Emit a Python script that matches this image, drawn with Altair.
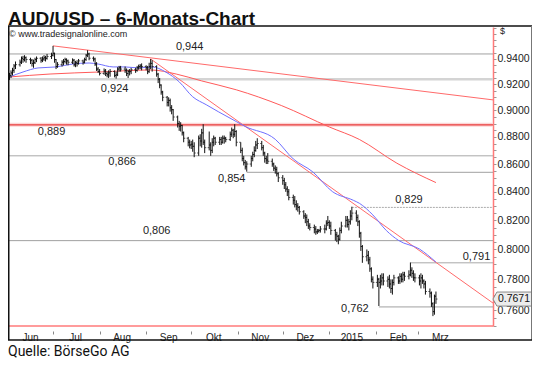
import altair as alt
import pandas as pd

TITLE = "AUD/USD – 6-Monats-Chart"
SOURCE = "Quelle: BörseGo AG"
WATERMARK = "© www.tradesignalonline.com"
LAST_PRICE = 0.7671
LAST_LABEL = "0.7671"

# daily bars (close, high, low), one list per month, weekdays in order
jun = [(0.9270, 0.9290, 0.9235), (0.9290, 0.9310, 0.9250), (0.9310, 0.9330, 0.9270),
       (0.9345, 0.9360, 0.9290), (0.9355, 0.9380, 0.9320), (0.9375, 0.9395, 0.9340),
       (0.9405, 0.9420, 0.9360), (0.9395, 0.9425, 0.9370), (0.9410, 0.9430, 0.9380),
       (0.9395, 0.9420, 0.9370), (0.9390, 0.9410, 0.9360), (0.9365, 0.9400, 0.9340),
       (0.9370, 0.9395, 0.9330), (0.9395, 0.9410, 0.9360), (0.9405, 0.9420, 0.9375),
       (0.9390, 0.9415, 0.9370), (0.9400, 0.9420, 0.9375), (0.9410, 0.9430, 0.9385),
       (0.9405, 0.9425, 0.9380), (0.9420, 0.9440, 0.9395), (0.9430, 0.9450, 0.9400)]
jul = [(0.9445, 0.9505, 0.9420), (0.9395, 0.9450, 0.9370), (0.9340, 0.9400, 0.9320),
       (0.9355, 0.9375, 0.9330), (0.9375, 0.9390, 0.9340), (0.9380, 0.9400, 0.9350),
       (0.9395, 0.9410, 0.9365), (0.9385, 0.9405, 0.9355), (0.9375, 0.9395, 0.9350),
       (0.9390, 0.9405, 0.9360), (0.9355, 0.9400, 0.9340), (0.9370, 0.9385, 0.9335),
       (0.9365, 0.9390, 0.9340), (0.9385, 0.9400, 0.9355), (0.9375, 0.9395, 0.9355),
       (0.9395, 0.9410, 0.9365), (0.9430, 0.9440, 0.9385), (0.9440, 0.9470, 0.9415),
       (0.9405, 0.9450, 0.9390), (0.9400, 0.9420, 0.9380), (0.9360, 0.9410, 0.9345),
       (0.9320, 0.9375, 0.9305), (0.9300, 0.9335, 0.9290)]
aug = [(0.9285, 0.9320, 0.9270), (0.9305, 0.9325, 0.9275), (0.9285, 0.9320, 0.9265),
       (0.9275, 0.9300, 0.9255), (0.9290, 0.9310, 0.9250), (0.9300, 0.9320, 0.9260),
       (0.9270, 0.9310, 0.9255), (0.9275, 0.9300, 0.9245), (0.9320, 0.9335, 0.9265),
       (0.9330, 0.9345, 0.9300), (0.9320, 0.9345, 0.9300), (0.9310, 0.9340, 0.9290),
       (0.9285, 0.9325, 0.9265), (0.9300, 0.9315, 0.9250), (0.9300, 0.9320, 0.9270),
       (0.9315, 0.9330, 0.9280), (0.9310, 0.9330, 0.9290), (0.9330, 0.9345, 0.9300),
       (0.9340, 0.9355, 0.9315), (0.9345, 0.9360, 0.9320), (0.9340, 0.9365, 0.9310)]
sep = [(0.9330, 0.9350, 0.9310), (0.9300, 0.9345, 0.9280), (0.9340, 0.9370, 0.9290),
       (0.9365, 0.9400, 0.9320), (0.9340, 0.9390, 0.9300), (0.9280, 0.9350, 0.9260),
       (0.9240, 0.9290, 0.9210), (0.9195, 0.9250, 0.9170), (0.9140, 0.9200, 0.9120),
       (0.9100, 0.9150, 0.9070), (0.9060, 0.9110, 0.9030), (0.9075, 0.9100, 0.9030),
       (0.9020, 0.9090, 0.8990), (0.9005, 0.9040, 0.8970), (0.8950, 0.9010, 0.8920),
       (0.8900, 0.8960, 0.8870), (0.8880, 0.8920, 0.8845), (0.8885, 0.8910, 0.8840),
       (0.8830, 0.8890, 0.8810), (0.8790, 0.8840, 0.8760), (0.8760, 0.8800, 0.8730),
       (0.8740, 0.8780, 0.8715)]
okt = [(0.8745, 0.8770, 0.8710), (0.8730, 0.8780, 0.8690), (0.8680, 0.8760, 0.8650),
       (0.8790, 0.8810, 0.8660), (0.8770, 0.8820, 0.8730), (0.8830, 0.8860, 0.8720),
       (0.8760, 0.8895, 0.8740), (0.8720, 0.8780, 0.8680), (0.8740, 0.8840, 0.8700),
       (0.8700, 0.8760, 0.8660), (0.8760, 0.8790, 0.8680), (0.8790, 0.8810, 0.8730),
       (0.8760, 0.8800, 0.8740), (0.8780, 0.8800, 0.8740), (0.8760, 0.8800, 0.8740),
       (0.8790, 0.8810, 0.8750), (0.8790, 0.8810, 0.8750), (0.8780, 0.8800, 0.8760),
       (0.8820, 0.8840, 0.8770), (0.8850, 0.8870, 0.8800), (0.8820, 0.8860, 0.8790),
       (0.8840, 0.8895, 0.8800), (0.8760, 0.8850, 0.8730)]
nov = [(0.8700, 0.8760, 0.8680), (0.8640, 0.8720, 0.8620), (0.8610, 0.8660, 0.8590),
       (0.8580, 0.8630, 0.8560), (0.8600, 0.8620, 0.8545), (0.8640, 0.8660, 0.8580),
       (0.8670, 0.8690, 0.8620), (0.8700, 0.8730, 0.8650), (0.8740, 0.8770, 0.8690),
       (0.8750, 0.8790, 0.8710), (0.8720, 0.8770, 0.8700), (0.8680, 0.8740, 0.8660),
       (0.8640, 0.8690, 0.8610), (0.8630, 0.8660, 0.8600), (0.8620, 0.8680, 0.8600),
       (0.8600, 0.8640, 0.8580), (0.8570, 0.8610, 0.8550), (0.8560, 0.8590, 0.8530),
       (0.8530, 0.8580, 0.8510), (0.8500, 0.8540, 0.8470)]
dez = [(0.8480, 0.8520, 0.8450), (0.8450, 0.8500, 0.8420), (0.8420, 0.8470, 0.8400),
       (0.8400, 0.8440, 0.8370), (0.8360, 0.8420, 0.8340), (0.8340, 0.8380, 0.8310),
       (0.8310, 0.8370, 0.8290), (0.8300, 0.8340, 0.8270), (0.8290, 0.8320, 0.8260),
       (0.8260, 0.8300, 0.8240), (0.8230, 0.8270, 0.8210), (0.8220, 0.8250, 0.8180),
       (0.8190, 0.8240, 0.8160), (0.8160, 0.8210, 0.8140), (0.8150, 0.8180, 0.8130),
       (0.8140, 0.8170, 0.8110), (0.8120, 0.8160, 0.8100), (0.8125, 0.8140, 0.8105),
       (0.8130, 0.8140, 0.8115), (0.8140, 0.8160, 0.8115), (0.8140, 0.8170, 0.8110),
       (0.8180, 0.8200, 0.8130), (0.8185, 0.8230, 0.8160)]
jan = [(0.8160, 0.8200, 0.8140), (0.8130, 0.8190, 0.8100), (0.8100, 0.8140, 0.8060),
       (0.8090, 0.8120, 0.8050), (0.8070, 0.8100, 0.8035), (0.8130, 0.8150, 0.8060),
       (0.8160, 0.8190, 0.8110), (0.8200, 0.8230, 0.8150), (0.8170, 0.8230, 0.8150),
       (0.8190, 0.8210, 0.8130), (0.8230, 0.8270, 0.8170), (0.8250, 0.8295, 0.8200),
       (0.8220, 0.8270, 0.8190), (0.8190, 0.8240, 0.8160), (0.8110, 0.8200, 0.8080),
       (0.8020, 0.8120, 0.7990), (0.7950, 0.8030, 0.7910), (0.7960, 0.8000, 0.7920),
       (0.7930, 0.7990, 0.7900), (0.7870, 0.7950, 0.7850), (0.7800, 0.7880, 0.7780),
       (0.7780, 0.7820, 0.7740)]
feb = [(0.7800, 0.7830, 0.7750), (0.7780, 0.7810, 0.7626), (0.7790, 0.7830, 0.7740),
       (0.7810, 0.7840, 0.7760), (0.7790, 0.7840, 0.7760), (0.7800, 0.7820, 0.7750),
       (0.7770, 0.7830, 0.7740), (0.7740, 0.7800, 0.7710), (0.7780, 0.7800, 0.7700),
       (0.7810, 0.7830, 0.7760), (0.7790, 0.7820, 0.7770), (0.7820, 0.7840, 0.7770),
       (0.7800, 0.7840, 0.7780), (0.7830, 0.7850, 0.7780), (0.7820, 0.7850, 0.7790),
       (0.7830, 0.7860, 0.7800), (0.7860, 0.7912, 0.7820), (0.7840, 0.7880, 0.7810),
       (0.7810, 0.7860, 0.7790), (0.7810, 0.7840, 0.7780)]
mrz = [(0.7790, 0.7830, 0.7760), (0.7810, 0.7840, 0.7740), (0.7790, 0.7830, 0.7770),
       (0.7770, 0.7800, 0.7740), (0.7720, 0.7790, 0.7700), (0.7710, 0.7740, 0.7680),
       (0.7640, 0.7720, 0.7620), (0.7590, 0.7650, 0.7561), (0.7690, 0.7700, 0.7570),
       (0.7671, 0.7720, 0.7640)]
month_ranges = [("2014-06-02", "2014-06-30"), ("2014-07-01", "2014-07-31"),
                ("2014-08-01", "2014-08-29"), ("2014-09-01", "2014-09-30"),
                ("2014-10-01", "2014-10-31"), ("2014-11-03", "2014-11-28"),
                ("2014-12-01", "2014-12-31"), ("2015-01-01", "2015-01-30"),
                ("2015-02-02", "2015-02-27"), ("2015-03-02", "2015-03-13")]
month_bars = [jun, jul, aug, sep, okt, nov, dez, jan, feb, mrz]
first_open = 0.9255

# moving averages
blue_dates = ["2014-06-02", "2014-06-11", "2014-06-21", "2014-07-03", "2014-07-14",
              "2014-07-25", "2014-07-31", "2014-08-10", "2014-08-18", "2014-08-27",
              "2014-09-05", "2014-09-14", "2014-09-23", "2014-10-02", "2014-10-11",
              "2014-10-19", "2014-10-31", "2014-11-06", "2014-11-26", "2014-12-08",
              "2014-12-21", "2015-01-03", "2015-01-17", "2015-01-21", "2015-01-30",
              "2015-02-08", "2015-02-16", "2015-03-02", "2015-03-13"]
blue_values = [0.9258, 0.9297, 0.9329, 0.9337, 0.9360, 0.9368, 0.9360, 0.9337, 0.9337,
               0.9329, 0.9337, 0.9297, 0.9220, 0.9104, 0.9043, 0.8990, 0.8915, 0.8878,
               0.8782, 0.8637, 0.8543, 0.8402, 0.8340, 0.8319, 0.8237, 0.8129, 0.8062,
               0.8003, 0.7915]
red_dates = ["2014-06-02", "2014-06-29", "2014-08-01", "2014-09-04", "2014-09-21",
             "2014-10-08", "2014-10-31", "2014-11-30", "2015-01-01", "2015-01-21",
             "2015-02-15", "2015-03-13"]
red_values = [0.9258, 0.9281, 0.9297, 0.9313, 0.9281, 0.9227, 0.9158, 0.9037, 0.8874,
              0.8781, 0.8606, 0.8466]

# trend lines
trend_start_dates = ["2014-07-01", "2014-09-04"]
trend_start_values = [0.9505, 0.9400]
trend_end_dates = ["2015-04-20", "2015-04-20"]
trend_end_values = [0.9080, 0.7645]

# horizontal levels
level_values = [0.944, 0.924, 0.889, 0.866, 0.854, 0.829, 0.806, 0.791, 0.762]
level_texts = ["0,944", "0,924", "0,889", "0,866", "0,854", "0,829", "0,806", "0,791", "0,762"]
level_starts = ["2014-06-01", "2014-06-01", "2014-06-01", "2014-06-01", "2014-11-07",
                "2015-01-16", "2014-06-01", "2015-02-24", "2015-02-03"]
level_label_dates = ["2014-09-30", "2014-08-11", "2014-06-30", "2014-08-16", "2014-10-28",
                     "2015-02-23", "2014-09-08", "2015-04-09", "2015-01-18"]
level_label_dy = [-7, 10, 7, 6, 7, -7, -10, -6, 2]
level_colors = ["#a0a0a0", "#d4d4d4", "#e83a3a", "#a8a8a8", "#a0a0a0", "#b8b8b8",
                "#a0a0a0", "#a8a8a8", "#a0a0a0"]
level_widths = [1, 2.5, 1.2, 1, 1, 1, 1, 1, 1]

month_names = ["Jan", "Feb", "Mrz", "Apr", "Mai", "Jun", "Jul", "Aug", "Sep", "Okt", "Nov", "Dez"]
tick_months = [(2014, 6), (2014, 7), (2014, 8), (2014, 9), (2014, 10), (2014, 11),
               (2014, 12), (2015, 1), (2015, 2), (2015, 3)]
y_ticks = [round(0.750 + 0.005 * i, 3) for i in range(44)]

# ---------------------------------------------------------------
rows = []
prev = first_open
for (a, b), bars in zip(month_ranges, month_bars):
    for d, (c, h, l) in zip(pd.bdate_range(a, b), bars):
        rows.append({"date": d.strftime("%Y-%m-%d"), "open": prev, "close": c,
                     "high": max(h, c, prev), "low": min(l, c, prev)})
        prev = c
bars_df = pd.DataFrame(rows)

blue_df = pd.DataFrame({"date": blue_dates, "v": blue_values})
red_df = pd.DataFrame({"date": red_dates, "v": red_values})
trend_df = pd.DataFrame({"d1": trend_start_dates, "v1": trend_start_values,
                         "d2": trend_end_dates, "v2": trend_end_values})
lv_df = pd.DataFrame({"v": level_values, "t": level_texts, "d1": level_starts,
                      "d2": "2015-04-20", "ld": level_label_dates, "dy": level_label_dy,
                      "c": level_colors, "w": level_widths})

# total svg must stay within 524 x 350 (page 540x366 minus 8px margins)
W, H = 485, 299
TOTAL_W = 524
xscale = alt.Scale(type="utc", domain=[alt.DateTime(year=2014, month=6, date=1, utc=True),
                                       alt.DateTime(year=2015, month=4, date=20, utc=True)])
yscale = alt.Scale(type="log", domain=[0.7498, 0.9658], nice=False)

month_js = "[" + ",".join("'%s'" % m for m in month_names) + "]"
xaxis = alt.Axis(values=[alt.DateTime(year=y, month=m, date=1, utc=True) for y, m in tick_months],
                 labelExpr="utcmonth(datum.value) == 0 ? '2015' : " + month_js + "[utcmonth(datum.value)]",
                 labelOffset=22, tickSize=3, offset=5, domain=False, grid=False,
                 labelPadding=-2, labelFontSize=10, labelFont="Liberation Sans",
                 labelColor="#222222", tickColor="#888888", title=None,
                 labelFlush=False, labelOverlap=False, labelBound=False)
yaxis = alt.Axis(orient="right", values=y_ticks,
                 labelExpr="(abs(datum.value*50 - round(datum.value*50)) < 0.001 && datum.value < 0.95) ? format(datum.value, '.4f') : ''",
                 tickSize=3, labelPadding=1, domainColor="#ff7a7a", domainWidth=1.5,
                 tickColor="#999999", labelFont="Liberation Sans", labelFontSize=10.5,
                 labelColor="#222222", grid=False, title=None, labelOverlap=False,
                 labelFlush=False, labelBound=False)


def X(f):
    return alt.X(f, type="temporal", scale=xscale, axis=xaxis)


def Y(f):
    return alt.Y(f, type="quantitative", scale=yscale, axis=yaxis)


one = pd.DataFrame({"k": [0]})

band = alt.Chart(lv_df).transform_filter("datum.v == 0.889").mark_rule(
    color="#fcd6d6", strokeWidth=4).encode(x=X("d1"), x2="d2", y=Y("v"))
levels = alt.Chart(lv_df).transform_filter("datum.v != 0.829").mark_rule().encode(
    x=X("d1"), x2="d2", y=Y("v"),
    color=alt.Color("c:N", scale=None), strokeWidth=alt.StrokeWidth("w:Q", scale=None))
dotted = alt.Chart(lv_df).transform_filter("datum.v == 0.829").mark_rule(
    color="#aaaaaa", strokeWidth=1, strokeDash=[2, 1]).encode(x=X("d1"), x2="d2", y=Y("v"))

trend = alt.Chart(trend_df).mark_rule(color="#ff6a6a", strokeWidth=1).encode(
    x=X("d1"), y=Y("v1"), x2="d2", y2="v2")
red_ma = alt.Chart(red_df).mark_line(color="#ff5a5a", strokeWidth=1, interpolate="monotone").encode(
    x=X("date"), y=Y("v"))
blue_ma = alt.Chart(blue_df).mark_line(color="#6f6fff", strokeWidth=1, interpolate="monotone").encode(
    x=X("date"), y=Y("v"))

hl = alt.Chart(bars_df).mark_rule(color="#111111", strokeWidth=1).encode(
    x=X("date"), y=Y("low"), y2="high")
op = alt.Chart(bars_df).mark_tick(color="#111111", orient="horizontal", size=1.5,
                                   thickness=1, xOffset=-0.8).encode(x=X("date"), y=Y("open"))
cl = alt.Chart(bars_df).mark_tick(color="#111111", orient="horizontal", size=1.5,
                                   thickness=1, xOffset=0.8).encode(x=X("date"), y=Y("close"))

label_layers = []
for dy in sorted(set(level_label_dy)):
    label_layers.append(
        alt.Chart(lv_df).transform_filter("datum.dy == %d" % dy).mark_text(
            font="Liberation Sans", fontSize=11, color="#222222", dy=dy,
            baseline="middle", align="center").encode(x=X("ld"), y=Y("v"), text="t:N"))

price_df = pd.DataFrame({"v": [LAST_PRICE], "t": [LAST_LABEL]})
box = alt.Chart(price_df).mark_point(
    shape="M -1 0 L -0.8 -0.36 L 1 -0.36 L 1 0.36 L -0.8 0.36 Z",
    size=1521, filled=True, fill="#ececec", stroke="#8a8a8a", strokeWidth=1, opacity=1).encode(
    x=alt.value(W + 19.5), y=Y("v"))
box_text = alt.Chart(price_df).mark_text(font="Liberation Sans", fontSize=10.5, color="#111111",
                                         align="center", baseline="middle").encode(
    x=alt.value(W + 21), y=Y("v"), text="t:N")


def rule(**kw):
    color = kw.pop("color")
    sw = kw.pop("sw")
    return alt.Chart(one).mark_rule(color=color, strokeWidth=sw).encode(
        **{k: alt.value(v) for k, v in kw.items()})


frame = [
    rule(x=0, x2=W, y=H, color="#ff7a7a", sw=1.5),
    rule(x=0, x2=TOTAL_W, y=-1, color="#111111", sw=1.5),
    rule(x=0.75, y=-1, y2=313, color="#111111", sw=1.5),
    rule(x=TOTAL_W - 0.5, y=-1, y2=313, color="#777777", sw=1),
    rule(x=0, x2=TOTAL_W, y=313, color="#111111", sw=1.5),
]


def text(t, x, y, **kw):
    return alt.Chart(one).mark_text(**kw).encode(x=alt.value(x), y=alt.value(y), text=alt.value(t))


texts = [
    text(TITLE, 0, -2.5, font="Liberation Sans", fontSize=19, fontWeight="bold", color="#111111",
         align="left", baseline="alphabetic"),
    text(WATERMARK, 1, 6.5, font="Liberation Sans", fontSize=9, color="#222222",
         align="left", baseline="middle"),
    text("$", W + 7, 4, font="Liberation Sans", fontSize=9, color="#222222",
         align="left", baseline="middle"),
    text(SOURCE, 0, 329, font="Roboto", fontSize=14, color="#111111",
         align="left", baseline="alphabetic"),
]

chart = alt.layer(
    band, levels, dotted, trend, red_ma, blue_ma, hl, op, cl, *label_layers,
    box, box_text, *frame, *texts
).properties(
    width=W, height=H,
    autosize=alt.AutoSizeParams(type="none"),
    padding={"left": 0, "top": 19, "right": TOTAL_W - W, "bottom": 32},
).configure_view(stroke=None)

chart.save("out.html", embed_options={"renderer": "svg", "actions": False})
